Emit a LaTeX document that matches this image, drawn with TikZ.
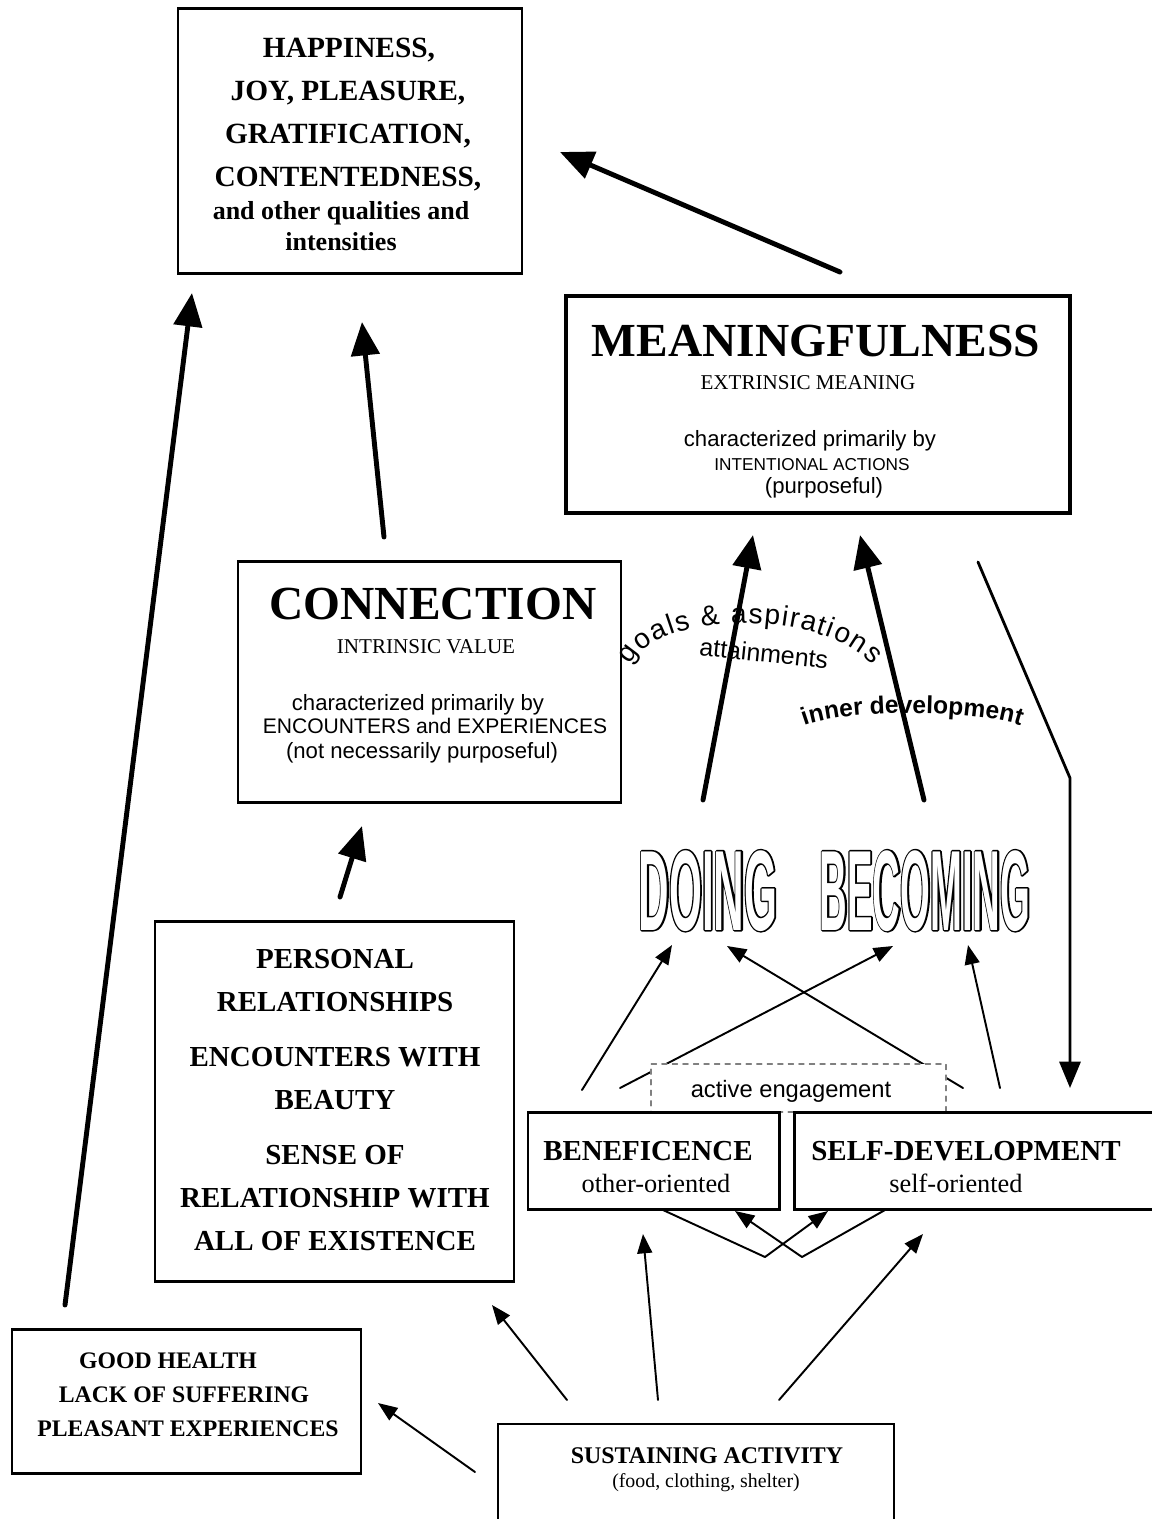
\documentclass[tikz,border=0pt]{standalone}
\usepackage{fontspec}
\setmainfont{Liberation Serif}
\setsansfont{Liberation Sans}
\newfontfamily\doingink{Liberation Sans Bold}[FakeStretch=0.37,FakeBold=2.6]
\newfontfamily\doingfill{Liberation Sans Bold}[FakeStretch=0.37]
\newfontfamily\becomink{Liberation Sans Bold}[FakeStretch=0.335,FakeBold=2.6]
\newfontfamily\becomfill{Liberation Sans Bold}[FakeStretch=0.335]
\usetikzlibrary{arrows.meta}
\usetikzlibrary{decorations.text}
\usetikzlibrary{fit}

\tikzset{
  boxframe/.style={draw,line width=1.7pt,line join=miter,inner sep=0pt},
  thickarr/.style={line width=2.8pt,-{Triangle[length=19pt,width=16pt]}},
  medarr/.style={line width=1.6pt,-{Triangle[length=15pt,width=12pt]}},
  thinarr/.style={line width=1.1pt,-{Triangle[length=11pt,width=8.5pt]}},
  txt/.style={anchor=base,inner sep=0pt},
  hapbig/.style={txt,font=\bfseries\fontsize{16.7}{20}\selectfont},
  hapsmall/.style={txt,font=\bfseries\fontsize{14.8}{18}\selectfont},
  bighead/.style={txt,font=\bfseries\fontsize{27}{30}\selectfont},
  subhead/.style={txt,font=\fontsize{12}{14}\selectfont},
  sanstxt/.style={txt,font=\sffamily\fontsize{12.6}{14}\selectfont},
  sanssmall/.style={txt,font=\sffamily\fontsize{9.8}{12}\selectfont},
  boldlist/.style={txt,font=\bfseries\fontsize{16.5}{20}\selectfont},
  orient/.style={txt,font=\fontsize{15}{18}\selectfont},
  healthtxt/.style={txt,font=\bfseries\fontsize{13.5}{16}\selectfont},
  susttxt/.style={txt,font=\bfseries\fontsize{13.6}{16}\selectfont},
  sustsub/.style={txt,font=\fontsize{11.3}{14}\selectfont},
  hollowink/.style={txt,text=black},
  hollowfill/.style={txt,text=white}
}

\begin{document}
\begin{tikzpicture}[line cap=round,line join=round,x=0.02cm,y=-0.02cm]
\useasboundingbox (0,0) rectangle (1152,1519);

\node[boxframe,fit={(178,8) (522,273)}] (happy) {};
\node[hapbig] (hap1) at (349,57) {HAPPINESS,};
\node[hapbig] (hap2) at (348,100) {JOY, PLEASURE,};
\node[hapbig] (hap3) at (348,143) {GRATIFICATION,};
\node[hapbig] (hap4) at (348,186) {CONTENTEDNESS,};
\node[hapsmall] (hap5) at (341,219) {and other qualities and};
\node[hapsmall] (hap6) at (341,250) {intensities};

\node[boxframe,line width=2pt,fit={(566,296) (1070,513)}] (meaning) {};
\node[bighead] (mean1) at (816,356) {MEANINGFULNESS};
\node[subhead] (mean2) at (808,389) {EXTRINSIC MEANING};
\node[sanstxt] (mean3) at (810,446) {characterized primarily by};
\node[sanssmall] (mean4) at (812,470) {INTENTIONAL ACTIONS};
\node[sanstxt] (mean5) at (824,493) {(purposeful)};

\node[boxframe,fit={(238,561) (621,802)}] (connect) {};
\node[bighead] (conn1) at (433,619) {CONNECTION};
\node[subhead] (conn2) at (426,653) {INTRINSIC VALUE};
\node[sanstxt] (conn3) at (418,710) {characterized primarily by};
\begin{scope}
  \clip (245,700) rectangle (606,745);
  \node[txt,font=\sffamily\fontsize{12}{14}\selectfont] (conn4) at (435,733) {ENCOUNTERS and EXPERIENCES};
\end{scope}
\node[sanstxt] (conn5) at (422,758) {(not necessarily purposeful)};

\node[boxframe,fit={(155,921) (514,1281)}] (personal) {};
\node[boldlist] (pers1) at (335,968) {PERSONAL};
\node[boldlist] (pers2) at (335,1011) {RELATIONSHIPS};
\node[boldlist] (pers3) at (335,1066) {ENCOUNTERS WITH};
\node[boldlist] (pers4) at (335,1109) {BEAUTY};
\node[boldlist] (pers5) at (335,1164) {SENSE OF};
\node[boldlist] (pers6) at (335,1207) {RELATIONSHIP WITH};
\node[boldlist] (pers7) at (335,1250) {ALL OF EXISTENCE};

\node[boxframe,fit={(12,1329) (361,1473)}] (health) {};
\node[healthtxt] (heal1) at (168,1368) {GOOD HEALTH};
\node[healthtxt] (heal2) at (184,1402) {LACK OF SUFFERING};
\node[healthtxt] (heal3) at (188,1436) {PLEASANT EXPERIENCES};

\node[boxframe,line width=0.9pt,fit={(498,1424) (894,1530)}] (sustain) {};
\node[susttxt] (sust1) at (707,1463) {SUSTAINING ACTIVITY};
\node[sustsub] (sust2) at (706,1487) {(food, clothing, shelter)};

\node[hollowink,font=\doingink\fontsize{65}{70}\selectfont] (doingk) at (708,930) {DOING};
\node[hollowfill,font=\doingfill\fontsize{65}{70}\selectfont] (doing) at (708,930) {DOING};
\node[hollowink,font=\becomink\fontsize{65}{70}\selectfont] (becomingk) at (925,930) {BECOMING};
\node[hollowfill,font=\becomfill\fontsize{65}{70}\selectfont] (becoming) at (925,930) {BECOMING};

\coordinate (m0) at (840,272);
\coordinate (h0) at (560,152);
\coordinate (c0) at (384,537);
\coordinate (h1) at (362,322);
\coordinate (g0) at (65,1305);
\coordinate (h2) at (192,293);
\coordinate (p0) at (340,897);
\coordinate (c1) at (362,826);
\coordinate (d0) at (703,800);
\coordinate (m1) at (753,535);
\coordinate (b0) at (924,800);
\coordinate (m2) at (860,535);
\coordinate (m3) at (978,562);
\coordinate (k0) at (1070,778);
\coordinate (s0) at (1070,1088);

\draw [thickarr] (m0) -- (h0);
\draw [thickarr] (c0) -- (h1);
\draw [thickarr] (g0) -- (h2);
\draw [thickarr] (p0) -- (c1);
\draw [thickarr] (d0) -- (m1);
\draw [thickarr] (b0) -- (m2);
\draw [medarr] (m3) -- (k0) -- (s0);

\path [decorate,decoration={text along path,text align={fit to path},
  text={|\sffamily\fontsize{16}{18}\selectfont|goals {\&} aspirations}}]
  (630,665) .. controls (655,612) and (820,607) .. (872,665);
\node[txt,rotate=-6,font=\sffamily\fontsize{14.2}{16}\selectfont] (attain) at (763,662) {attainments};
\path [decorate,decoration={text along path,text align=center,
  text={|\sffamily\bfseries\fontsize{14}{16}\selectfont|inner development}}]
  (803,726) .. controls (845,709) and (975,709) .. (1022,726);

\coordinate (e1) at (582,1090);
\coordinate (e2) at (620,1088);
\coordinate (e3) at (963,1088);
\coordinate (e4) at (1000,1088);
\coordinate (t1) at (672,945);
\coordinate (t2) at (893,946);
\coordinate (t3) at (727,946);
\coordinate (t4) at (968,945);

\draw [thinarr] (e1) -- (t1);
\draw [thinarr] (e2) -- (t2);
\draw [thinarr] (e3) -- (t3);
\draw [thinarr] (e4) -- (t4);

\node[draw=gray,dashed,fill=white,line width=0.6pt,inner sep=0pt,fit={(651,1064) (946,1112)}] (engage) {};
\node[txt,font=\sffamily\fontsize{13.5}{16}\selectfont] (engtxt) at (791,1097) {active engagement};

\node[boxframe,fill=white,fit={(528,1112) (779,1209)}] (benef) {};
\node[boxframe,fill=white,fit={(794,1112) (1158,1209)}] (selfdev) {};
\node[boldlist] (ben1) at (648,1160) {BENEFICENCE};
\node[orient] (ben2) at (656,1192) {other-oriented};
\node[boldlist] (self1) at (966,1160) {SELF-DEVELOPMENT};
\node[orient] (self2) at (956,1192) {self-oriented};

\coordinate (v1) at (663,1210);
\coordinate (v2) at (765,1257);
\coordinate (v3) at (828,1211);
\coordinate (w1) at (885,1210);
\coordinate (w2) at (802,1257);
\coordinate (w3) at (735,1211);
\draw [thinarr] (v1) -- (v2) -- (v3);
\draw [thinarr] (w1) -- (w2) -- (w3);

\coordinate (q1) at (475,1472);
\coordinate (q2) at (567,1400);
\coordinate (q3) at (658,1400);
\coordinate (q4) at (779,1400);
\coordinate (r1) at (378,1403);
\coordinate (r2) at (492,1305);
\coordinate (r3) at (643,1234);
\coordinate (r4) at (923,1234);
\draw [thinarr] (q1) -- (r1);
\draw [thinarr] (q2) -- (r2);
\draw [thinarr] (q3) -- (r3);
\draw [thinarr] (q4) -- (r4);
\end{tikzpicture}
\end{document}
